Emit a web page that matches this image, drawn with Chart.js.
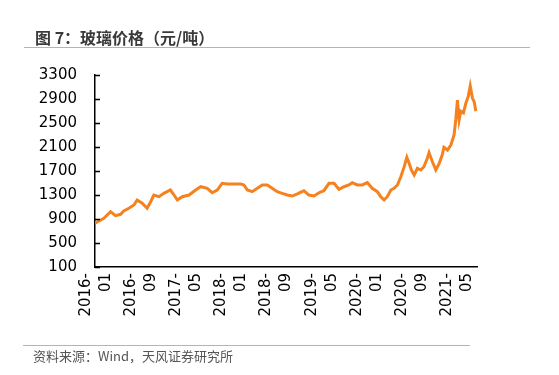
<!DOCTYPE html>
<html>
<head>
<meta charset="utf-8">
<script src="https://cdn.jsdelivr.net/npm/chart.js@4"></script>
<style>
  body { margin: 0; background: #fff; }
  #wrap { position: relative; width: 559px; height: 375px; overflow: hidden; }
  #chart { position: absolute; left: 0; top: 0; }
  .title {
    position: absolute; left: 35px; top: 25px;
    font: bold 16px "Noto Sans CJK SC", sans-serif; color: #3a3a3a;
  }
  .rule { position: absolute; height: 1px; background: #f0a46a; }
  .source {
    position: absolute; left: 33px; top: 346px;
    font: 13px "Noto Sans CJK SC", sans-serif; color: #555;
  }
</style>
</head>
<body>
<div id="wrap">
  <canvas id="chart" width="559" height="375"></canvas>
  <div class="title">图 7：玻璃价格（元/吨）</div>
  <div class="rule" style="left:24px; top:47px; width:506px;"></div>
  <div class="rule" style="left:23px; top:345px; width:447px;"></div>
  <div class="source">资料来源：Wind，天风证券研究所</div>
</div>
<script>
// 玻璃价格（元/吨）
const dates = [
  "2016-01-01", "2016-01-22", "2016-02-18", "2016-03-24", "2016-04-20", "2016-05-17",
  "2016-06-04", "2016-07-01", "2016-07-28", "2016-08-15", "2016-09-12", "2016-10-08",
  "2016-10-27", "2016-11-14", "2016-12-11", "2017-01-07", "2017-02-12", "2017-03-01",
  "2017-03-19", "2017-04-15", "2017-05-21", "2017-06-26", "2017-07-14", "2017-07-23",
  "2017-08-28", "2017-09-24", "2017-10-21", "2017-11-17", "2017-12-14", "2018-01-20",
  "2018-02-25", "2018-03-13", "2018-04-01", "2018-04-27", "2018-05-24", "2018-06-20",
  "2018-07-17", "2018-08-13", "2018-09-10", "2018-10-06", "2018-11-03", "2018-11-30",
  "2018-12-27", "2019-01-05", "2019-02-02", "2019-02-28", "2019-03-25", "2019-04-22",
  "2019-05-18", "2019-06-15", "2019-07-12", "2019-08-08", "2019-09-05", "2019-10-01",
  "2019-10-19", "2019-11-15", "2019-12-12", "2020-01-09", "2020-02-05", "2020-03-02",
  "2020-03-20", "2020-04-08", "2020-04-25", "2020-05-14", "2020-06-01", "2020-06-19",
  "2020-07-07", "2020-07-25", "2020-08-09", "2020-08-21", "2020-09-03", "2020-09-18",
  "2020-10-05", "2020-10-23", "2020-11-10", "2020-11-28", "2020-12-07", "2020-12-25",
  "2021-01-13", "2021-02-01", "2021-02-17", "2021-02-26", "2021-03-15", "2021-04-03",
  "2021-04-20", "2021-04-29", "2021-05-08", "2021-05-17", "2021-05-26", "2021-06-10",
  "2021-06-23", "2021-07-05", "2021-07-16", "2021-07-28", "2021-08-07", "2021-08-16"
];
const prices = [
  830, 867, 910, 1022, 955, 978,
  1033, 1078, 1133, 1217, 1162, 1078,
  1188, 1300, 1272, 1328, 1383, 1300,
  1217, 1272, 1300, 1383, 1422, 1438,
  1411, 1338, 1383, 1495, 1483, 1483,
  1483, 1467, 1383, 1355, 1411, 1467,
  1467, 1411, 1355, 1328, 1300, 1283,
  1317, 1330, 1372, 1300, 1283, 1338,
  1372, 1495, 1495, 1395, 1438, 1467,
  1505, 1467, 1467, 1505, 1411, 1355,
  1272, 1217, 1272, 1383, 1411, 1467,
  1605, 1772, 1928, 1828, 1717, 1633,
  1745, 1717, 1772, 1912, 2005, 1855,
  1717, 1828, 1967, 2095, 2050, 2133,
  2300, 2550, 2883, 2550, 2695, 2667,
  2833, 2938, 3117, 2911, 2855, 2695
];
const xTickLabels = ["2016-01", "2016-09", "2017-05", "2018-01", "2018-09", "2019-05", "2020-01", "2020-09", "2021-05"];
const yMin = 100, yMax = 3300, yStep = 400;

// 以 2016-01 为 0 的月份序号
function monthIndex(s) {
  const [y, m, d] = s.split("-").map(Number);
  return (y - 2016) * 12 + (m - 1) + ((d || 1) - 1) / 30;
}

const points = dates.map((d, i) => ({ x: monthIndex(d), y: prices[i] }));

// y 轴向内的短刻度
const innerTicks = {
  id: "innerTicks",
  afterDraw(chart) {
    const ctx = chart.ctx;
    const ys = chart.scales.y;
    const left = chart.chartArea.left;
    ctx.save();
    ctx.strokeStyle = "#000";
    ctx.lineWidth = 1.5;
    ys.ticks.forEach(t => {
      const py = Math.round(ys.getPixelForValue(t.value)) + 0.5;
      ctx.beginPath();
      ctx.moveTo(left, py);
      ctx.lineTo(left + 5, py);
      ctx.stroke();
    });
    ctx.restore();
  }
};

new Chart(document.getElementById("chart"), {
  type: "line",
  data: {
    datasets: [{
      data: points,
      borderColor: "#f5821f",
      borderWidth: 3,
      pointRadius: 0,
      tension: 0
    }]
  },
  options: {
    responsive: false,
    devicePixelRatio: 1,
    animation: false,
    layout: { padding: { top: 75, right: 82, left: 0, bottom: 0 } },
    plugins: { legend: { display: false }, tooltip: { enabled: false } },
    scales: {
      x: {
        type: "linear",
        min: 0,
        max: 67.7,
        afterBuildTicks: scale => {
          scale.ticks = xTickLabels.map(l => ({ value: monthIndex(l + "-01") }));
        },
        afterFit: scale => { scale.height = 108; },
        grid: { drawOnChartArea: false, drawTicks: false },
        border: { color: "#000", width: 1.5 },
        ticks: {
          autoSkip: false,
          maxRotation: 90,
          minRotation: 90,
          padding: 6,
          labelOffset: -9,
          color: "#000",
          font: { family: "DejaVu Sans", size: 15, lineHeight: 1.33 },
          callback: (v, i) => {
            const l = xTickLabels[i];
            return l ? [l.slice(0, 5), l.slice(5)] : "";
          }
        }
      },
      y: {
        min: yMin,
        max: yMax,
        afterFit: scale => { scale.width = 95; },
        grid: { drawOnChartArea: false, drawTicks: false },
        border: { color: "#000", width: 1.5 },
        ticks: {
          stepSize: yStep,
          padding: 18,
          color: "#000",
          font: { family: "DejaVu Sans", size: 15 },
          callback: v => String(v)
        }
      }
    }
  },
  plugins: [innerTicks]
});
</script>
</body>
</html>
